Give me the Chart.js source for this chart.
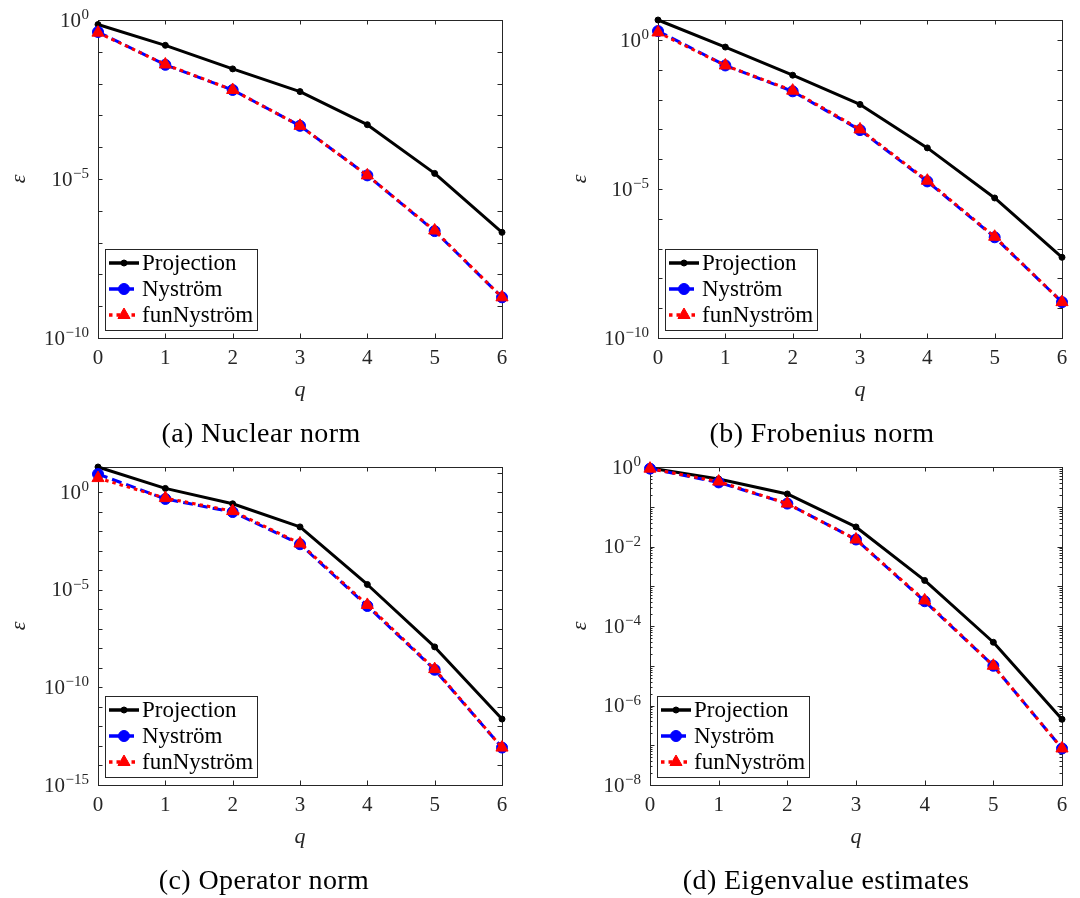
<!DOCTYPE html>
<html><head><meta charset="utf-8">
<script src="https://cdn.jsdelivr.net/npm/chart.js@4.4.1/dist/chart.umd.min.js"></script>
<style>
html,body{margin:0;padding:0;background:#fff;width:1080px;height:898px;overflow:hidden;}
#wrap{position:relative;width:1080px;height:898px;}
canvas{position:absolute;}
.cap{position:absolute;width:400px;text-align:center;font-family:"Liberation Serif",serif;font-size:28px;line-height:30px;color:#000;letter-spacing:0.4px;white-space:nowrap;}
</style></head><body>
<div id="wrap">
<canvas id="ca" width="540" height="449" style="left:0;top:0"></canvas>
<canvas id="cb" width="540" height="449" style="left:540px;top:0"></canvas>
<canvas id="cc" width="540" height="449" style="left:0;top:449px"></canvas>
<canvas id="cd" width="540" height="449" style="left:540px;top:449px"></canvas>
<div class="cap" style="left:61px;top:418px">(a) Nuclear norm</div>
<div class="cap" style="left:622px;top:418px">(b) Frobenius norm</div>
<div class="cap" style="left:64px;top:865px">(c) Operator norm</div>
<div class="cap" style="left:626px;top:865px">(d) Eigenvalue estimates</div>
</div>
<script>
// ---------- data ----------
const qValues = [0, 1, 2, 3, 4, 5, 6];
const xTickLabels = ['0', '1', '2', '3', '4', '5', '6'];
const seriesNames = ['Projection', 'Nyström', 'funNyström'];

// (a) Nuclear norm
const nuclearProjection = [7.2e-1, 1.6e-1, 2.9e-2, 5.6e-3, 5.1e-4, 1.5e-5, 2.1e-7];
const nuclearNystrom    = [4.2e-1, 3.9e-2, 6.3e-3, 4.7e-4, 1.3e-5, 2.3e-7, 1.9e-9];
const nuclearFunNystrom = [4.0e-1, 4.0e-2, 6.3e-3, 4.7e-4, 1.3e-5, 2.4e-7, 1.9e-9];
const nuclearYTicks     = [1e-10, 1e-9, 1e-8, 1e-7, 1e-6, 1e-5, 1e-4, 1e-3, 1e-2, 1e-1, 1e0];
const nuclearYExponents = ['−10', '', '', '', '', '−5', '', '', '', '', '0'];

// (b) Frobenius norm
const frobProjection = [4.7, 5.8e-1, 6.6e-2, 6.9e-3, 2.4e-4, 5.0e-6, 5.1e-8];
const frobNystrom    = [2.0, 1.4e-1, 1.9e-2, 9.5e-4, 1.8e-5, 2.4e-7, 1.6e-9];
const frobFunNystrom = [1.8, 1.4e-1, 2.0e-2, 1.0e-3, 1.9e-5, 2.5e-7, 1.6e-9];
const frobYTicks     = [1e-10, 1e-9, 1e-8, 1e-7, 1e-6, 1e-5, 1e-4, 1e-3, 1e-2, 1e-1, 1e0];
const frobYExponents = ['−10', '', '', '', '', '−5', '', '', '', '', '0'];

// (c) Operator norm
const opProjection = [20, 1.6, 2.6e-1, 1.7e-2, 1.9e-5, 1.2e-8, 2.4e-12];
const opNystrom    = [8.7, 4.6e-1, 9.8e-2, 2.2e-3, 1.5e-6, 8.1e-10, 8.3e-14];
const opFunNystrom = [5.4, 5.1e-1, 1.1e-1, 2.4e-3, 1.7e-6, 8.7e-10, 8.3e-14];
const opYTicks     = [1e-15, 1e-14, 1e-13, 1e-12, 1e-11, 1e-10, 1e-9, 1e-8, 1e-7, 1e-6, 1e-5, 1e-4, 1e-3, 1e-2, 1e-1, 1e0, 1e1];
const opYExponents = ['−15', '', '', '', '', '−10', '', '', '', '', '−5', '', '', '', '', '0', ''];

// (d) Eigenvalue estimates
const eigProjection = [9.4e-1, 5.0e-1, 2.1e-1, 3.1e-2, 1.4e-3, 3.9e-5, 4.5e-7];
const eigNystrom    = [9.1e-1, 4.1e-1, 1.2e-1, 1.5e-2, 4.2e-4, 1.0e-5, 8.3e-8];
const eigFunNystrom = [9.1e-1, 4.3e-1, 1.2e-1, 1.5e-2, 4.4e-4, 1.0e-5, 8.3e-8];
const eigYTicks     = [1e-8, 1e-7, 1e-6, 1e-5, 1e-4, 1e-3, 1e-2, 1e-1, 1e0];
const eigYExponents = ['−8', '', '−6', '', '−4', '', '−2', '', '0'];
const eigMinorMultipliers = [2, 3, 4, 5, 6, 7, 8, 9];

// ---------- styles ----------
const FONT = '"Liberation Serif", "Times New Roman", serif';
const AXIS_COLOR = '#262626';
const X_AXIS_H = 65;

const framePlugin = {
  id: 'frame',
  beforeDatasetsDraw(chart) {
    const ctx = chart.ctx, a = chart.chartArea;
    const xs = chart.scales.x, ys = chart.scales.y;
    ctx.save();
    ctx.strokeStyle = AXIS_COLOR;
    ctx.lineWidth = 1;
    ctx.beginPath();
    ys.ticks.forEach(t => {
      const y = Math.round(ys.getPixelForValue(t.value)) + 0.5;
      const lg = Math.log10(t.value);
      const major = Math.abs(lg - Math.round(lg)) < 1e-6;
      const len = major ? 4.5 : 2.5;
      ctx.moveTo(a.left, y); ctx.lineTo(a.left + len, y);
      ctx.moveTo(a.right, y); ctx.lineTo(a.right - len, y);
    });
    xs.ticks.forEach(t => {
      const x = Math.round(xs.getPixelForValue(t.value)) + 0.5;
      ctx.moveTo(x, a.bottom); ctx.lineTo(x, a.bottom - 4.5);
      ctx.moveTo(x, a.top); ctx.lineTo(x, a.top + 4.5);
    });
    ctx.stroke();
    ctx.strokeRect(Math.round(a.left) + 0.5, Math.round(a.top) + 0.5,
                   Math.round(a.right - a.left), Math.round(a.bottom - a.top));

    // y tick labels as 10 with raised exponent
    const o = chart.options.plugins.frame;
    const right = Math.round(a.left) - 9;
    ctx.fillStyle = AXIS_COLOR;
    o.majorTicks.forEach((v, i) => {
      const e = o.exponents[i];
      if (!e) return;
      const y = ys.getPixelForValue(v);
      ctx.font = '15px ' + FONT;
      const ew = ctx.measureText(e).width;
      ctx.textAlign = 'left';
      ctx.textBaseline = 'alphabetic';
      ctx.fillText(e, right - ew, y - 1);
      ctx.font = '21px ' + FONT;
      ctx.textAlign = 'right';
      ctx.textBaseline = 'middle';
      ctx.fillText('10', right - ew - 0.5, y + 1);
    });
    ctx.restore();
  },
  afterDraw(chart) {
    const ctx = chart.ctx, a = chart.chartArea;
    const bw = 152, bh = 81;
    const bx = Math.round(a.left) + 7, by = Math.round(a.bottom) - 8 - bh;
    ctx.save();
    ctx.fillStyle = '#fff';
    ctx.fillRect(bx, by, bw, bh);
    ctx.strokeStyle = AXIS_COLOR;
    ctx.lineWidth = 1;
    ctx.strokeRect(bx + 0.5, by + 0.5, bw, bh);
    const rows = [14, 40, 66];
    chart.data.datasets.forEach((ds, i) => {
      const y = by + rows[i];
      ctx.beginPath();
      ctx.setLineDash(ds.borderDash || []);
      ctx.lineWidth = ds.borderWidth + 0.5;
      ctx.strokeStyle = ds.borderColor;
      ctx.moveTo(bx + 4, y); ctx.lineTo(bx + 34, y);
      ctx.stroke();
      ctx.setLineDash([]);
      ctx.fillStyle = ds.backgroundColor;
      ctx.strokeStyle = ds.borderColor;
      ctx.lineWidth = 1;
      Chart.helpers.drawPoint(ctx, {pointStyle: ds.pointStyle, radius: ds.pointRadius, rotation: 0, borderWidth: 1}, bx + 19, y);
      ctx.fillStyle = '#000';
      ctx.font = '23px ' + FONT;
      ctx.textBaseline = 'middle';
      ctx.textAlign = 'left';
      ctx.fillText(ds.label, bx + 37, y + 1);
    });
    ctx.restore();
  }
};

function buildDatasets(proj, nys, fun) {
  const pts = arr => qValues.map((q, i) => ({x: q, y: arr[i]}));
  return [
    {label: seriesNames[0], data: pts(proj), borderColor: '#000000', backgroundColor: '#000000',
     borderWidth: 3, borderDash: [], pointStyle: 'circle', pointRadius: 3, pointBorderWidth: 1,
     order: 3, clip: false, tension: 0, borderJoinStyle: 'round'},
    {label: seriesNames[1], data: pts(nys), borderColor: '#0000ff', backgroundColor: '#0000ff',
     borderWidth: 3, borderDash: [10, 5], pointStyle: 'circle', pointRadius: 5.5, pointBorderWidth: 1,
     order: 2, clip: false, tension: 0},
    {label: seriesNames[2], data: pts(fun), borderColor: '#ff0000', backgroundColor: '#ff0000',
     borderWidth: 3, borderDash: [3.5, 4], pointStyle: 'triangle', pointRadius: 7, pointBorderWidth: 1,
     order: 1, clip: false, tension: 0}
  ];
}

function makeChart(id, proj, nys, fun, yMin, yMax, yTicks, yExps, minorMult, lay) {
  let tickValues = yTicks.slice();
  if (minorMult) {
    yTicks.slice(0, -1).forEach(d => minorMult.forEach(m => tickValues.push(d * m)));
  }
  tickValues.sort((p, q) => p - q);
  return new Chart(document.getElementById(id), {
    type: 'line',
    data: {datasets: buildDatasets(proj, nys, fun)},
    options: {
      responsive: false, animation: false, devicePixelRatio: 1,
      events: [],
      layout: {padding: {left: lay.L, right: lay.R, top: lay.T, bottom: 449 - lay.B - X_AXIS_H}},
      plugins: {legend: {display: false}, tooltip: {enabled: false},
                frame: {majorTicks: yTicks, exponents: yExps}},
      scales: {
        x: {
          type: 'linear', min: 0, max: 6, bounds: 'data',
          afterFit: s => { s.height = X_AXIS_H; },
          ticks: {stepSize: 1, autoSkip: false, padding: 8, color: AXIS_COLOR,
                  font: {family: FONT, size: 21},
                  callback: (v, i) => xTickLabels[i]},
          grid: {display: false, drawTicks: false},
          border: {display: false},
          title: {display: true, text: 'q', color: AXIS_COLOR,
                  font: {family: FONT, size: 22, style: 'italic'}, padding: {top: 0, bottom: 0}}
        },
        y: {
          type: 'logarithmic', min: yMin, max: yMax, bounds: 'data',
          afterBuildTicks: s => { s.ticks = tickValues.map(v => ({value: v})); },
          afterFit: s => { s.width = lay.W; },
          ticks: {display: false, autoSkip: false},
          grid: {display: false, drawTicks: false},
          border: {display: false},
          title: {display: true, text: 'ε', color: AXIS_COLOR,
                  font: {family: FONT, size: 22, style: 'italic'}, padding: {top: 6, bottom: 0}}
        }
      }
    },
    plugins: [framePlugin]
  });
}

makeChart('ca', nuclearProjection, nuclearNystrom, nuclearFunNystrom, 1e-10, 1, nuclearYTicks, nuclearYExponents, null,
          {L: 0, W: 98, R: 38, T: 20, B: 338});
makeChart('cb', frobProjection, frobNystrom, frobFunNystrom, 1e-10, 4.7, frobYTicks, frobYExponents, null,
          {L: 21, W: 97, R: 18, T: 20, B: 338});
makeChart('cc', opProjection, opNystrom, opFunNystrom, 1e-15, 20, opYTicks, opYExponents, null,
          {L: 0, W: 98, R: 38, T: 18, B: 336});
makeChart('cd', eigProjection, eigNystrom, eigFunNystrom, 1e-8, 1, eigYTicks, eigYExponents, eigMinorMultipliers,
          {L: 21, W: 89, R: 18, T: 18, B: 336});
</script>
</body></html>
